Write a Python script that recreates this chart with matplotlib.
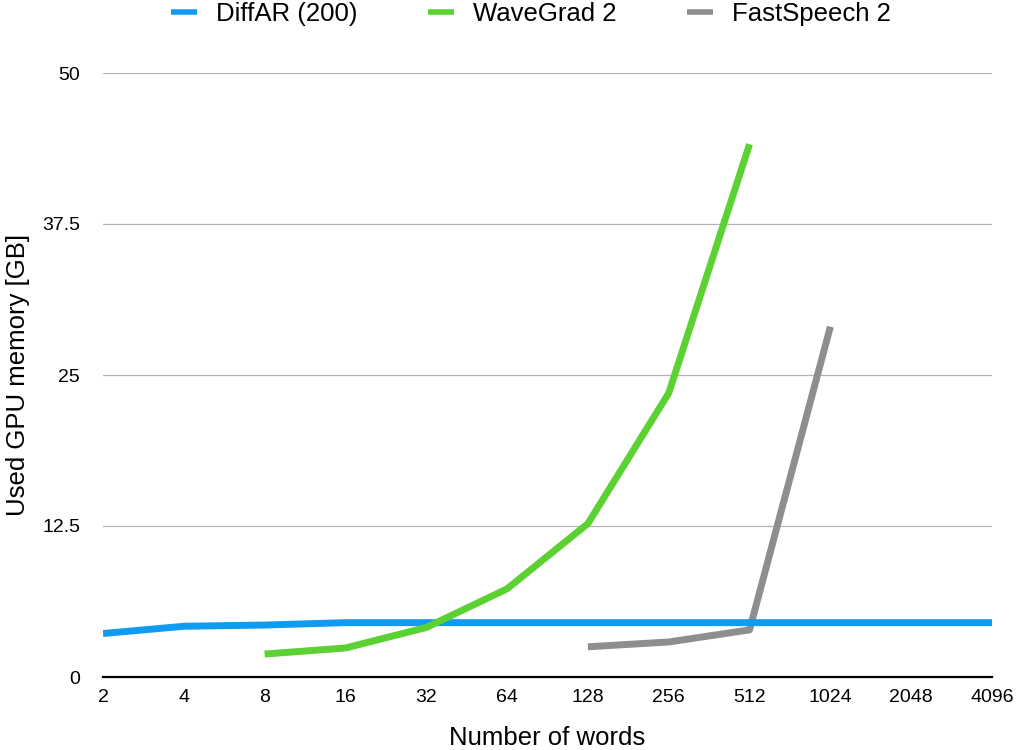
import matplotlib
matplotlib.use("Agg")
import matplotlib.pyplot as plt

plt.rcParams['font.family'] = ['Liberation Sans', 'DejaVu Sans']

x_labels = ["2", "4", "8", "16", "32", "64", "128", "256", "512", "1024", "2048", "4096"]

diffar_idx = [0, 1, 2, 3, 4, 5, 6, 7, 8, 9, 10, 11]
diffar_vals = [3.6, 4.2, 4.3, 4.5, 4.5, 4.5, 4.5, 4.5, 4.5, 4.5, 4.5, 4.5]

wavegrad_idx = [2, 3, 4, 5, 6, 7, 8]
wavegrad_vals = [1.9, 2.4, 4.1, 7.3, 12.7, 23.5, 44.1]

fastspeech_idx = [6, 7, 8, 9]
fastspeech_vals = [2.5, 2.9, 3.9, 29.0]

y_ticks = [0, 12.5, 25, 37.5, 50]
y_tick_labels = ["0", "12.5", "25", "37.5", "50"]

fig = plt.figure(figsize=(10.16, 7.5), dpi=100)
ax = fig.add_axes([103/1016, 73/750, (992-103)/1016, (677-73)/750])

lw = 5.0
ax.plot(diffar_idx, diffar_vals, color="#0f9cf0", lw=lw, solid_capstyle="butt", label="DiffAR (200)", zorder=3)
ax.plot(wavegrad_idx, wavegrad_vals, color="#5bd132", lw=lw, solid_capstyle="butt", label="WaveGrad 2", zorder=4)
ax.plot(fastspeech_idx, fastspeech_vals, color="#8e8e8e", lw=lw, solid_capstyle="butt", label="FastSpeech 2", zorder=2)

ax.set_xlim(0, len(x_labels) - 1)
ax.set_ylim(0, 50)
ax.set_xticks(range(len(x_labels)))
ax.set_xticklabels(x_labels, fontsize=14)
ax.set_yticks(y_ticks)
ax.set_yticklabels(y_tick_labels, fontsize=14)
ax.tick_params(axis="both", length=0)
ax.tick_params(axis="x", pad=9)
ax.tick_params(axis="y", pad=16.5)

ax.grid(axis="y", color="#b4b4b4", lw=0.9)
ax.set_axisbelow(True)
for s in ["top", "right", "left"]:
    ax.spines[s].set_visible(False)
ax.spines["bottom"].set_color("black")
ax.spines["bottom"].set_linewidth(1.6)
ax.spines["bottom"].set_zorder(1)

ax.set_xlabel("Number of words", fontsize=18.5, labelpad=14)
ax.set_ylabel("Used GPU memory [GB]", fontsize=18.5, labelpad=9)

leg = fig.legend(loc="center", bbox_to_anchor=(531/1016, 1 - 14/750), ncol=3, frameon=False,
                 fontsize=18.5, handlelength=1.0, handletextpad=0.75, columnspacing=2.75)
for h in leg.get_lines():
    h.set_linewidth(4.0)
    h.set_solid_capstyle("butt")

fig.savefig("out.png", dpi=100)
